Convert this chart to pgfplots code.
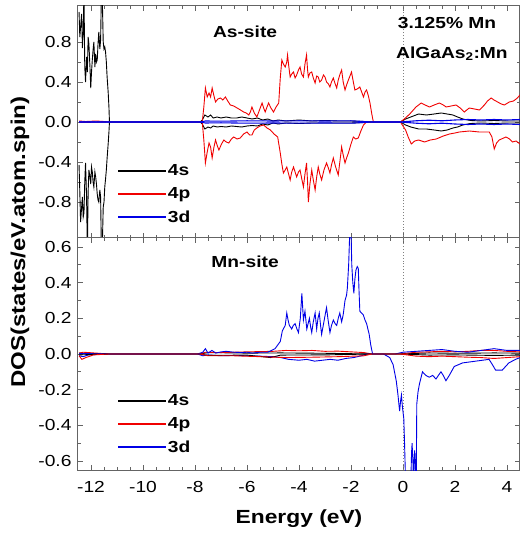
\documentclass[border=0pt]{standalone}
\usepackage{fontspec}
\setmainfont{Liberation Sans}[FakeStretch=1.2]
\usepackage{pgfplots}
\pgfplotsset{compat=1.18}
\definecolor{frame}{RGB}{100,100,100}
\definecolor{dosred}{RGB}{240,0,0}
\definecolor{dosblue}{RGB}{0,0,230}
\pgfplotsset{
  dosax/.style={
    width=442pt, height=232pt, scale only axis,
    xmin=-12.5, xmax=4.5,
    xtick={-12,-10,-8,-6,-4,-2,0,2,4}, minor x tick num=3,
    minor y tick num=1,
    axis line style={frame, line width=1pt},
    every tick/.style={frame, line width=0.8pt},
    major tick length=5pt, minor tick length=3pt,
    tick align=inside,
    tick label style={font=\fontsize{16}{18}\selectfont},
    yticklabel style={xshift=-3pt},
    /pgf/number format/assume math mode=true,
    legend cell align=left,
    legend style={draw=none, fill=none, inner sep=0pt, text=black,
      font=\bfseries\fontsize{16}{18}\selectfont, row sep=6.5pt,
      nodes={inner sep=2pt, text=black}},
    every axis plot/.append style={line width=0.9pt},
  },
}
\begin{document}
\begin{tikzpicture}
\begin{axis}[dosax, name=top,
  ymin=-1.16, ymax=1.16,
  ytick={-0.8,-0.4,0,0.4,0.8},
  yticklabels={-0.8,-0.4,0.0,0.4,0.8},
  xticklabels={},
  legend style={at={(0.09,0.325)}, anchor=north west}]
\addlegendimage{legend image code/.code={\fill[black] (0pt,-0.45pt) rectangle (47pt,0.45pt);}}
\addlegendentry{\textcolor{black}{4s}}
\addlegendimage{legend image code/.code={\fill[dosred] (0pt,-0.45pt) rectangle (47pt,0.45pt);}}
\addlegendentry{\textcolor{black}{4p}}
\addlegendimage{legend image code/.code={\fill[dosblue] (0pt,-0.45pt) rectangle (47pt,0.45pt);}}
\addlegendentry{\textcolor{black}{3d}}
\addplot[gray, dotted, line width=0.6pt, forget plot] coordinates {(0,-1.2) (0,1.2)};
% As 4s up
\addplot[black, forget plot] coordinates {
(-12.46,1.10) (-12.43,0.85) (-12.40,0.95) (-12.36,1.08) (-12.33,0.74) (-12.30,0.90)
(-12.27,1.30) (-12.24,0.55) (-12.21,0.40) (-12.17,0.65) (-12.14,0.50) (-12.11,0.85)
(-12.08,0.78) (-12.04,0.55) (-12.01,0.34) (-11.98,0.50) (-11.95,0.62) (-11.92,0.72)
(-11.89,0.80) (-11.85,0.55) (-11.82,0.68) (-11.79,0.60) (-11.76,0.62) (-11.73,0.78)
(-11.70,0.90) (-11.66,0.73) (-11.63,0.82) (-11.60,1.30) (-11.57,1.30) (-11.53,0.80)
(-11.50,0.73) (-11.47,0.75) (-11.44,0.70) (-11.41,0.60) (-11.38,0.45) (-11.34,0.30)
(-11.31,0.15) (-11.29,0) (-7.8,0) (-7.72,0.02) (-7.62,0.07) (-7.5,0.05) (-7.4,0.07)
(-7.3,0.04) (-7.15,0.05) (-7.0,0.04) (-6.8,0.05) (-6.6,0.04) (-6.4,0.04) (-6.2,0.05)
(-6.0,0.04) (-5.8,0.03) (-5.6,0.04) (-5.4,0.02) (-5.2,0.03) (-5.0,0.01) (-4.8,0.02)
(-4.5,0.01) (-4.0,0.02) (-3.5,0.01) (-3.0,0.015) (-2.5,0.01) (-2.0,0.01) (-1.5,0.005)
(-1.2,0) (-0.1,0) (0.1,0.03) (0.3,0.05) (0.6,0.08) (0.9,0.07) (1.2,0.08) (1.47,0.09)
(1.7,0.08) (1.92,0.07) (2.1,0.05) (2.3,0.03) (2.6,0.015) (3.0,0.01) (3.5,0.015)
(4.0,0.01) (4.5,0.01)};
% As 4p up
\addplot[dosred, forget plot] coordinates {
(-12.46,0.01) (-12.2,0.005) (-11.8,0.01) (-11.5,0.005) (-11.3,0) (-7.8,0) (-7.72,0)
(-7.66,0.15) (-7.6,0.34) (-7.53,0.25) (-7.46,0.29) (-7.40,0.25) (-7.34,0.34) (-7.27,0.26)
(-7.21,0.20) (-7.12,0.23) (-7.02,0.24) (-6.93,0.22) (-6.83,0.25) (-6.74,0.21) (-6.64,0.17)
(-6.51,0.16) (-6.38,0.14) (-6.25,0.12) (-6.13,0.10) (-6.03,0.09) (-5.93,0.07) (-5.87,0.10)
(-5.81,0.15) (-5.72,0.09) (-5.62,0.05) (-5.52,0.12) (-5.42,0.19) (-5.36,0.14) (-5.30,0.10)
(-5.23,0.15) (-5.17,0.19) (-5.08,0.14) (-4.98,0.10) (-4.88,0.15) (-4.78,0.19) (-4.72,0.44)
(-4.66,0.62) (-4.60,0.58) (-4.53,0.55) (-4.47,0.60) (-4.44,0.67) (-4.39,0.55) (-4.34,0.45)
(-4.28,0.48) (-4.21,0.50) (-4.15,0.44) (-4.09,0.47) (-4.02,0.52) (-3.96,0.55) (-3.90,0.48)
(-3.83,0.45) (-3.77,0.58) (-3.71,0.67) (-3.67,0.52) (-3.64,0.45) (-3.58,0.49) (-3.51,0.50)
(-3.45,0.44) (-3.38,0.39) (-3.32,0.46) (-3.26,0.45) (-3.20,0.40) (-3.13,0.42) (-3.06,0.47)
(-3.00,0.45) (-2.94,0.40) (-2.87,0.38) (-2.81,0.35) (-2.75,0.40) (-2.68,0.44) (-2.62,0.39)
(-2.55,0.34) (-2.49,0.42) (-2.42,0.48) (-2.36,0.52) (-2.30,0.40) (-2.23,0.32) (-2.17,0.37)
(-2.10,0.42) (-2.04,0.46) (-1.98,0.50) (-1.91,0.40) (-1.85,0.32) (-1.76,0.33) (-1.66,0.35)
(-1.59,0.30) (-1.52,0.25) (-1.46,0.30) (-1.40,0.32) (-1.33,0.26) (-1.27,0.19) (-1.20,0.08)
(-1.14,0) (-0.1,0) (0.05,0.03) (0.26,0.08) (0.5,0.15) (0.7,0.19) (0.85,0.17) (1.02,0.15)
(1.2,0.17) (1.4,0.19) (1.55,0.17) (1.66,0.15) (1.85,0.16) (2.04,0.17) (2.2,0.14) (2.36,0.10)
(2.45,0.12) (2.55,0.14) (2.75,0.13) (2.94,0.12) (3.13,0.17) (3.25,0.21) (3.39,0.24)
(3.5,0.22) (3.64,0.20) (3.78,0.18) (3.9,0.17) (4.09,0.20) (4.25,0.21) (4.4,0.24) (4.5,0.27)};
% As 4s down
\addplot[black, forget plot] coordinates {
(-12.46,-0.43) (-12.43,-0.70) (-12.40,-1.00) (-12.36,-0.85) (-12.33,-0.75) (-12.30,-0.95)
(-12.27,-0.91) (-12.24,-0.60) (-12.21,-0.41) (-12.17,-0.75) (-12.14,-1.30) (-12.11,-0.70)
(-12.08,-0.48) (-12.04,-0.55) (-12.01,-0.62) (-11.98,-0.45) (-11.95,-0.50) (-11.92,-0.60)
(-11.89,-0.65) (-11.85,-0.50) (-11.82,-0.55) (-11.79,-0.62) (-11.76,-0.72) (-11.73,-0.78)
(-11.70,-0.80) (-11.66,-0.68) (-11.63,-0.75) (-11.60,-1.30) (-11.57,-1.30) (-11.53,-0.85)
(-11.50,-0.80) (-11.47,-0.65) (-11.44,-0.57) (-11.41,-0.48) (-11.38,-0.36) (-11.34,-0.22)
(-11.31,-0.10) (-11.29,0) (-7.8,0) (-7.72,-0.02) (-7.62,-0.07) (-7.5,-0.05) (-7.4,-0.06)
(-7.3,-0.04) (-7.15,-0.05) (-7.0,-0.045) (-6.8,-0.05) (-6.6,-0.04) (-6.4,-0.045) (-6.2,-0.05)
(-6.0,-0.04) (-5.8,-0.035) (-5.6,-0.04) (-5.4,-0.02) (-5.2,-0.03) (-5.0,-0.01) (-4.8,-0.02)
(-4.5,-0.01) (-4.0,-0.015) (-3.5,-0.01) (-3.0,-0.01) (-2.5,-0.01) (-2.0,-0.01) (-1.5,-0.005)
(-1.2,0) (-0.1,0) (0.1,-0.03) (0.3,-0.05) (0.6,-0.07) (0.9,-0.07) (1.2,-0.08) (1.47,-0.09)
(1.7,-0.08) (1.92,-0.06) (2.1,-0.05) (2.3,-0.03) (2.6,-0.015) (3.0,-0.01) (3.5,-0.015)
(4.0,-0.01) (4.5,-0.01)};
% As 4p down
\addplot[dosred, forget plot] coordinates {
(-12.46,-0.005) (-11.3,0) (-7.8,0) (-7.72,0) (-7.66,-0.18) (-7.6,-0.41) (-7.53,-0.30)
(-7.46,-0.21) (-7.40,-0.25) (-7.34,-0.36) (-7.27,-0.25) (-7.21,-0.18) (-7.14,-0.24)
(-7.08,-0.28) (-6.98,-0.22) (-6.89,-0.18) (-6.80,-0.20) (-6.70,-0.21) (-6.60,-0.17)
(-6.51,-0.15) (-6.38,-0.17) (-6.26,-0.16) (-6.13,-0.12) (-6.0,-0.10) (-5.90,-0.13)
(-5.81,-0.13) (-5.72,-0.08) (-5.62,-0.06) (-5.50,-0.04) (-5.36,-0.03) (-5.23,-0.06)
(-5.10,-0.08) (-4.96,-0.12) (-4.82,-0.15) (-4.72,-0.31) (-4.66,-0.42) (-4.60,-0.51)
(-4.53,-0.48) (-4.47,-0.45) (-4.40,-0.52) (-4.34,-0.58) (-4.28,-0.50) (-4.21,-0.45)
(-4.15,-0.50) (-4.09,-0.55) (-4.02,-0.50) (-3.96,-0.48) (-3.90,-0.56) (-3.83,-0.65)
(-3.77,-0.52) (-3.71,-0.41) (-3.67,-0.60) (-3.64,-0.80) (-3.58,-0.62) (-3.51,-0.48)
(-3.45,-0.58) (-3.38,-0.68) (-3.32,-0.55) (-3.26,-0.45) (-3.20,-0.52) (-3.13,-0.58)
(-3.04,-0.48) (-2.94,-0.41) (-2.87,-0.46) (-2.81,-0.51) (-2.75,-0.43) (-2.68,-0.36)
(-2.59,-0.45) (-2.49,-0.53) (-2.42,-0.38) (-2.36,-0.25) (-2.30,-0.33) (-2.23,-0.41)
(-2.17,-0.36) (-2.10,-0.31) (-2.00,-0.22) (-1.91,-0.15) (-1.82,-0.17) (-1.72,-0.16)
(-1.62,-0.09) (-1.52,-0.03) (-1.40,0) (-0.1,0) (0.1,-0.08) (0.2,-0.15) (0.32,-0.22)
(0.45,-0.19) (0.6,-0.18) (0.83,-0.20) (1.05,-0.18) (1.28,-0.17) (1.55,-0.14) (1.79,-0.12)
(2.0,-0.11) (2.17,-0.10) (2.55,-0.09) (2.94,-0.10) (3.32,-0.10) (3.42,-0.15) (3.51,-0.27)
(3.6,-0.21) (3.7,-0.18) (3.96,-0.15) (4.1,-0.17) (4.21,-0.20) (4.35,-0.19) (4.5,-0.22)};
% As 3d up/down
\addplot[dosblue, line width=1.1pt, forget plot] coordinates {
(-12.46,0) (-7.8,0) (-7.6,0.01) (-7.0,0.008) (-6.0,0.012) (-5.0,0.01) (-4.0,0.012)
(-3.0,0.01) (-2.0,0.012) (-1.2,0) (-0.1,0) (0.5,0.012) (1.0,0.018) (1.5,0.012) (2.0,0.02)
(2.5,0.025) (3.0,0.02) (3.5,0.025) (4.0,0.02) (4.5,0.025)};
\addplot[dosblue, line width=1.1pt, forget plot] coordinates {
(-12.46,0) (-7.8,0) (-7.6,-0.01) (-7.0,-0.008) (-6.0,-0.012) (-5.0,-0.01) (-4.0,-0.012)
(-3.0,-0.01) (-2.0,-0.012) (-1.2,0) (-0.1,0) (0.5,-0.012) (1.0,-0.018) (1.5,-0.012) (2.0,-0.02)
(2.5,-0.025) (3.0,-0.02) (3.5,-0.025) (4.0,-0.02) (4.5,-0.025)};
\node[font=\bfseries\fontsize{16}{18}\selectfont] at (rel axis cs:0.378,0.888) {As-site};
\node[font=\bfseries\fontsize{16}{18}\selectfont] at (rel axis cs:0.835,0.925) {3.125\% Mn};
\node[font=\bfseries\fontsize{16}{18}\selectfont] at (rel axis cs:0.846,0.795) {AlGaAs\textsubscript{2}:Mn};
\end{axis}

\begin{axis}[dosax, name=bot, at={(top.south west)}, anchor=north west,
  ymin=-0.65, ymax=0.65,
  ytick={-0.6,-0.4,-0.2,0,0.2,0.4,0.6},
  yticklabels={-0.6,-0.4,-0.2,0.0,0.2,0.4,0.6},
  xticklabels={-12,-10,-8,-6,-4,-2,0,2,4},
  xticklabel style={yshift=-8pt},
  legend style={at={(0.09,0.335)}, anchor=north west}]
\addlegendimage{legend image code/.code={\fill[black] (0pt,-0.45pt) rectangle (47pt,0.45pt);}}
\addlegendentry{\textcolor{black}{4s}}
\addlegendimage{legend image code/.code={\fill[dosred] (0pt,-0.45pt) rectangle (47pt,0.45pt);}}
\addlegendentry{\textcolor{black}{4p}}
\addlegendimage{legend image code/.code={\fill[dosblue] (0pt,-0.45pt) rectangle (47pt,0.45pt);}}
\addlegendentry{\textcolor{black}{3d}}
\addplot[gray, dotted, line width=0.6pt, forget plot] coordinates {(0,-0.7) (0,0.7)};
% Mn 4s up
\addplot[black, forget plot] coordinates {
(-12.46,0.005) (-12,0.003) (-11.3,0) (-7.8,0) (-7.5,0.008) (-6,0.005) (-4.7,0.006)
(-3,0.004) (-1.2,0) (-0.1,0) (1,0.006) (2,0.004) (3.5,0.006) (4.5,0.005)};
% Mn 4p up
\addplot[dosred, forget plot] coordinates {
(-12.46,0.005) (-12.3,0.01) (-11.3,0) (-7.8,0) (-7.6,0.01) (-7.0,0.008) (-6.0,0.012)
(-5.0,0.015) (-4.5,0.02) (-4.0,0.018) (-3.5,0.02) (-3.0,0.015) (-2.5,0.016) (-2.0,0.012)
(-1.5,0.008) (-1.2,0) (-0.1,0) (0.5,0.01) (1.0,0.012) (1.5,0.015) (2.0,0.012) (2.5,0.015)
(3.0,0.02) (3.5,0.02) (4.0,0.015) (4.5,0.012)};
% Mn 3d up
\addplot[dosblue, forget plot] coordinates {
(-12.46,0.003) (-11.3,0) (-7.9,0) (-7.7,0.01) (-7.6,0.03) (-7.5,0.005) (-7.35,0.02)
(-7.2,0.005) (-7.0,0.012) (-6.8,0.015) (-6.5,0.01) (-6.2,0.008) (-6.0,0.01) (-5.8,0.005)
(-5.5,0.01) (-5.2,0.01) (-4.92,0.03) (-4.72,0.07) (-4.64,0.13) (-4.53,0.16) (-4.47,0.23)
(-4.42,0.19) (-4.37,0.16) (-4.28,0.14) (-4.22,0.16) (-4.15,0.17) (-4.08,0.14) (-4.02,0.12)
(-3.95,0.20) (-3.89,0.34) (-3.83,0.19) (-3.77,0.24) (-3.70,0.14) (-3.65,0.17) (-3.60,0.20)
(-3.55,0.15) (-3.51,0.12) (-3.45,0.18) (-3.38,0.23) (-3.32,0.14) (-3.27,0.20) (-3.22,0.23)
(-3.17,0.16) (-3.13,0.11) (-3.08,0.15) (-3.03,0.19) (-2.98,0.23) (-2.94,0.26) (-2.88,0.19)
(-2.81,0.12) (-2.75,0.16) (-2.68,0.19) (-2.61,0.17) (-2.55,0.16) (-2.49,0.20) (-2.43,0.23)
(-2.36,0.18) (-2.30,0.22) (-2.23,0.30) (-2.17,0.33) (-2.14,0.37) (-2.09,0.50) (-2.06,0.63)
(-2.03,0.72) (-2.00,0.70) (-1.97,0.50) (-1.93,0.40) (-1.89,0.34) (-1.85,0.42) (-1.81,0.47)
(-1.76,0.49) (-1.72,0.48) (-1.69,0.35) (-1.66,0.24) (-1.60,0.23) (-1.53,0.22) (-1.46,0.19)
(-1.40,0.17) (-1.35,0.14) (-1.30,0.11) (-1.24,0.05) (-1.17,0) (-0.3,0) (0,0.01) (0.5,0.015)
(1.0,0.02) (1.5,0.025) (2.0,0.015) (2.5,0.01) (3.0,0.02) (3.5,0.03) (4.0,0.02) (4.5,0.02)};
% Mn 3d down
\addplot[dosblue, forget plot] coordinates {
(-12.46,-0.01) (-12.3,-0.015) (-12.1,-0.005) (-11.3,0) (-7.9,0) (-7.7,-0.01) (-7.5,-0.005)
(-7.0,-0.01) (-6.5,-0.008) (-6.0,-0.01) (-5.5,-0.012) (-5.0,-0.015) (-4.7,-0.02) (-4.4,-0.03)
(-4.0,-0.035) (-3.7,-0.03) (-3.4,-0.04) (-3.1,-0.035) (-2.8,-0.03) (-2.5,-0.035) (-2.2,-0.025)
(-1.9,-0.02) (-1.6,-0.01) (-1.4,0) (-0.75,0) (-0.51,-0.02) (-0.38,-0.06) (-0.26,-0.15)
(-0.20,-0.22) (-0.13,-0.32) (-0.09,-0.26) (-0.06,-0.23) (-0.02,-0.30) (0.03,-0.36)
(0.06,-0.50) (0.10,-0.72) (0.30,-0.72) (0.33,-0.55) (0.35,-0.50) (0.38,-0.60) (0.41,-0.72)
(0.43,-0.58) (0.45,-0.54) (0.48,-0.65) (0.51,-0.72) (0.53,-0.28) (0.58,-0.21) (0.63,-0.17)
(0.75,-0.10) (0.88,-0.12) (1.01,-0.13) (1.14,-0.12) (1.27,-0.14) (1.36,-0.12) (1.46,-0.10)
(1.55,-0.12) (1.65,-0.15) (1.78,-0.12) (1.97,-0.07) (2.29,-0.05) (2.8,-0.04) (3.31,-0.03)
(3.44,-0.06) (3.56,-0.09) (3.82,-0.09) (4.07,-0.05) (4.33,-0.03) (4.5,-0.02)};
% Mn 4s down
\addplot[black, forget plot] coordinates {
(-12.46,-0.005) (-12,-0.003) (-11.3,0) (-7.8,0) (-7.5,-0.008) (-6,-0.006) (-5.1,-0.02)
(-4.7,-0.006) (-3,-0.005) (-1.2,0) (-0.1,0) (1,-0.006) (2,-0.005) (3.5,-0.008) (4.5,-0.006)};
% Mn 4p down
\addplot[dosred, forget plot] coordinates {
(-12.46,-0.01) (-12.35,-0.03) (-12.2,-0.02) (-11.9,-0.005) (-11.3,0) (-7.8,0) (-7.5,-0.01)
(-6.5,-0.01) (-5.5,-0.015) (-4.5,-0.02) (-3.5,-0.018) (-2.5,-0.015) (-1.5,-0.01) (-1.2,0)
(-0.1,0) (0.5,-0.012) (1,-0.015) (1.5,-0.012) (2,-0.015) (2.5,-0.018) (3,-0.02) (3.5,-0.025)
(4,-0.02) (4.5,-0.015)};
\node[font=\bfseries\fontsize{16}{18}\selectfont] at (rel axis cs:0.378,0.897) {Mn-site};
\end{axis}
\node[rotate=90, font=\bfseries\fontsize{20}{24}\selectfont] at ([xshift=-58pt,yshift=-4pt]top.south west) {DOS(states/eV.atom.spin)};
\node[font=\bfseries\fontsize{19}{23}\selectfont] at ([yshift=-49pt]bot.south) {Energy (eV)};
\pgfresetboundingbox
\path[use as bounding box] ([xshift=-78pt,yshift=6pt]top.north west) rectangle ([xshift=6pt,yshift=-67pt]bot.south east);
\end{tikzpicture}
\end{document}
